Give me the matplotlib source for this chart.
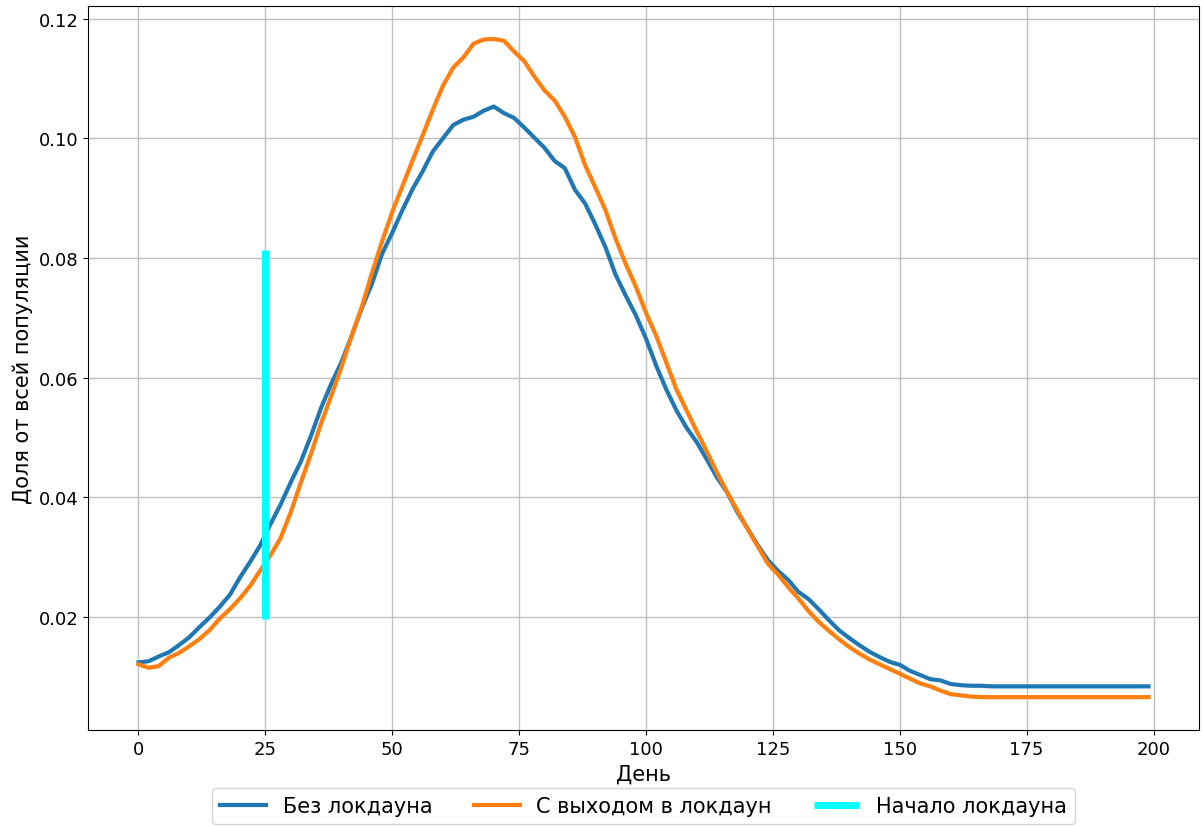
import matplotlib
matplotlib.use('Agg')
import matplotlib.pyplot as plt

# days (every 2nd day, plus the last one)
days = list(range(0, 200, 2)) + [199]

no_lockdown = [
    0.0124, 0.0126, 0.0134, 0.0141, 0.0153, 0.0166, 0.0183, 0.0199, 0.0217, 0.0237,
    0.0266, 0.0292, 0.0320, 0.0355, 0.0388, 0.0425, 0.0460, 0.0503, 0.0550, 0.0590,
    0.0626, 0.0670, 0.0716, 0.0757, 0.0807, 0.0842, 0.0880, 0.0915, 0.0945, 0.0978,
    0.1000, 0.1022, 0.1031, 0.1036, 0.1046, 0.1053, 0.1042, 0.1034, 0.1018, 0.1001,
    0.0984, 0.0962, 0.0950, 0.0914, 0.0891, 0.0856, 0.0818, 0.0772, 0.0737, 0.0704,
    0.0665, 0.0620, 0.0580, 0.0545, 0.0516, 0.0492, 0.0463, 0.0433, 0.0408, 0.0375,
    0.0348, 0.0320, 0.0295, 0.0277, 0.0262, 0.0242, 0.0230, 0.0213, 0.0195, 0.0178,
    0.0165, 0.0153, 0.0142, 0.0133, 0.0125, 0.0120, 0.0110, 0.0103, 0.0096, 0.0094,
    0.0088, 0.0086, 0.0085, 0.0085, 0.0084, 0.0084, 0.0084, 0.0084, 0.0084, 0.0084,
    0.0084, 0.0084, 0.0084, 0.0084, 0.0084, 0.0084, 0.0084, 0.0084, 0.0084, 0.0084,
    0.0084,
]

with_lockdown = [
    0.0121, 0.0115, 0.0118, 0.0132, 0.0140, 0.0151, 0.0163, 0.0178, 0.0197, 0.0213,
    0.0231, 0.0252, 0.0278, 0.0303, 0.0332, 0.0375, 0.0425, 0.0473, 0.0524, 0.0570,
    0.0618, 0.0670, 0.0718, 0.0775, 0.0828, 0.0877, 0.0920, 0.0963, 0.1005, 0.1048,
    0.1088, 0.1118, 0.1135, 0.1158, 0.1165, 0.1166, 0.1163, 0.1145, 0.1129, 0.1103,
    0.1080, 0.1063, 0.1036, 0.1002, 0.0955, 0.0918, 0.0880, 0.0832, 0.0790, 0.0752,
    0.0708, 0.0670, 0.0625, 0.0580, 0.0545, 0.0510, 0.0476, 0.0441, 0.0408, 0.0378,
    0.0347, 0.0318, 0.0289, 0.0271, 0.0250, 0.0231, 0.0210, 0.0192, 0.0177, 0.0163,
    0.0150, 0.0139, 0.0129, 0.0121, 0.0113, 0.0105, 0.0097, 0.0089, 0.0084, 0.0077,
    0.0071, 0.0069, 0.0067, 0.0066, 0.0066, 0.0066, 0.0066, 0.0066, 0.0066, 0.0066,
    0.0066, 0.0066, 0.0066, 0.0066, 0.0066, 0.0066, 0.0066, 0.0066, 0.0066, 0.0066,
    0.0066,
]

lockdown_day = 25
lockdown_span = (0.0197, 0.0813)

fig = plt.figure(figsize=(12.02, 8.28), dpi=100)
ax = fig.add_axes([0.0732, 0.1171, 0.9243, 0.8744])

ax.plot(days, no_lockdown, color='#1f77b4', linewidth=3, label='Без локдауна')
ax.plot(days, with_lockdown, color='#ff7f0e', linewidth=3, label='С выходом в локдаун')
ax.vlines(lockdown_day, *lockdown_span, color='cyan', linewidth=5, label='Начало локдауна')

ax.set_xticks([0, 25, 50, 75, 100, 125, 150, 175, 200])
ax.set_yticks([0.02, 0.04, 0.06, 0.08, 0.10, 0.12])
ax.tick_params(labelsize=13)
ax.grid(True, color='#c0c0c0', linewidth=1)
ax.set_axisbelow(True)

ax.set_xlabel('День', fontsize=15)
ax.set_ylabel('Доля от всей популяции', fontsize=15)

ax.legend(loc='upper center', bbox_to_anchor=(0.5, -0.071), ncol=3, fontsize=15,
          frameon=True, handlelength=2.2, columnspacing=2.0, borderaxespad=0.3)

fig.savefig('out.png', dpi=100)
